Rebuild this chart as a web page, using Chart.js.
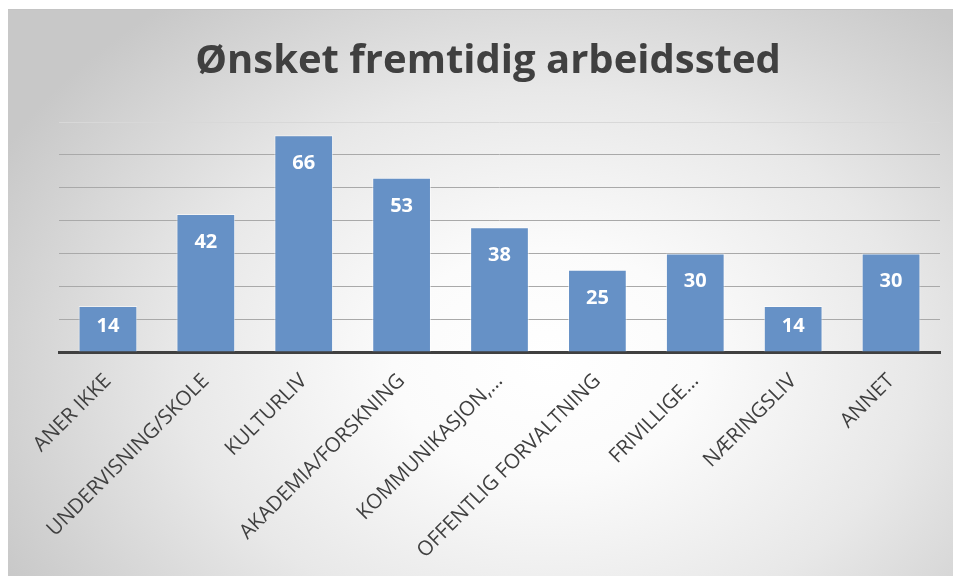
<!DOCTYPE html>
<html>
<head>
<meta charset="utf-8">
<script src="https://cdn.jsdelivr.net/npm/chart.js@4.4.1/dist/chart.umd.min.js"></script>
<style>
  html, body { margin: 0; padding: 0; background: #ffffff; }
  #frame {
    position: absolute; left: 8px; top: 9px; width: 945px; height: 567px;
    border-top: 1px solid #c4c4c4;
    background: radial-gradient(ellipse 65% 80% at 57% 62%, #ffffff 0%, #fbfbfb 25%, #e8e8e8 60%, #c8c8c8 100%);
  }
</style>
</head>
<body>
<div id="frame"><canvas id="chart" width="945" height="567"></canvas></div>
<script>
const categories = ['ANER IKKE', 'UNDERVISNING/SKOLE', 'KULTURLIV', 'AKADEMIA/FORSKNING', 'KOMMUNIKASJON,…', 'OFFENTLIG FORVALTNING', 'FRIVILLIGE…', 'NÆRINGSLIV', 'ANNET'];
const counts = [14, 42, 66, 53, 38, 25, 30, 14, 30];
const yMax = 70;
const yStep = 10;

// white bold numbers inside the top of each bar
const barLabels = {
    id: 'barLabels',
    afterDatasetsDraw(chart) {
        const ctx = chart.ctx;
        const meta = chart.getDatasetMeta(0);
        ctx.save();
        ctx.fillStyle = '#ffffff';
        ctx.font = 'bold 20px "Open Sans"';
        ctx.textAlign = 'center';
        ctx.textBaseline = 'middle';
        meta.data.forEach((bar, i) => {
            const y = Math.min(bar.y + 28, bar.base - 25);
            ctx.fillText(String(counts[i]), bar.x, y);
        });
        ctx.restore();
    }
};

new Chart(document.getElementById('chart'), {
    type: 'bar',
    data: {
        labels: categories,
        datasets: [{
            data: counts,
            backgroundColor: '#6691c6',
            borderColor: 'rgba(255,255,255,0.55)',
            borderWidth: 1,
            categoryPercentage: 1,
            barPercentage: 0.6
        }]
    },
    options: {
        responsive: false,
        animation: false,
        layout: { padding: { left: 28, right: 13, top: 0, bottom: 0 } },
        plugins: {
            legend: { display: false },
            tooltip: { enabled: false },
            title: {
                display: true,
                text: 'Ønsket fremtidig arbeidssted',
                color: '#404040',
                font: { family: '"Open Sans"', size: 40, weight: 'bold' },
                padding: { top: 28, bottom: 36 }
            }
        },
        scales: {
            x: {
                grid: { display: false },
                border: { display: true, color: '#404040', width: 3 },
                ticks: {
                    color: '#404040',
                    font: { family: '"Open Sans"', size: 20.5 },
                    maxRotation: 45,
                    minRotation: 45,
                    autoSkip: false,
                    padding: 9
                },
                afterFit(scale) { scale.height = 225; }
            },
            y: {
                min: 0,
                max: yMax,
                ticks: { display: false, stepSize: yStep },
                border: { display: false },
                grid: {
                    drawTicks: false,
                    color: (c) => c.tick && c.tick.value === yMax ? '#d8d8d8' : '#a9a9a9',
                    lineWidth: 1
                },
                afterFit(scale) { scale.width = 23; }
            }
        }
    },
    plugins: [barLabels]
});
</script>
</body>
</html>
